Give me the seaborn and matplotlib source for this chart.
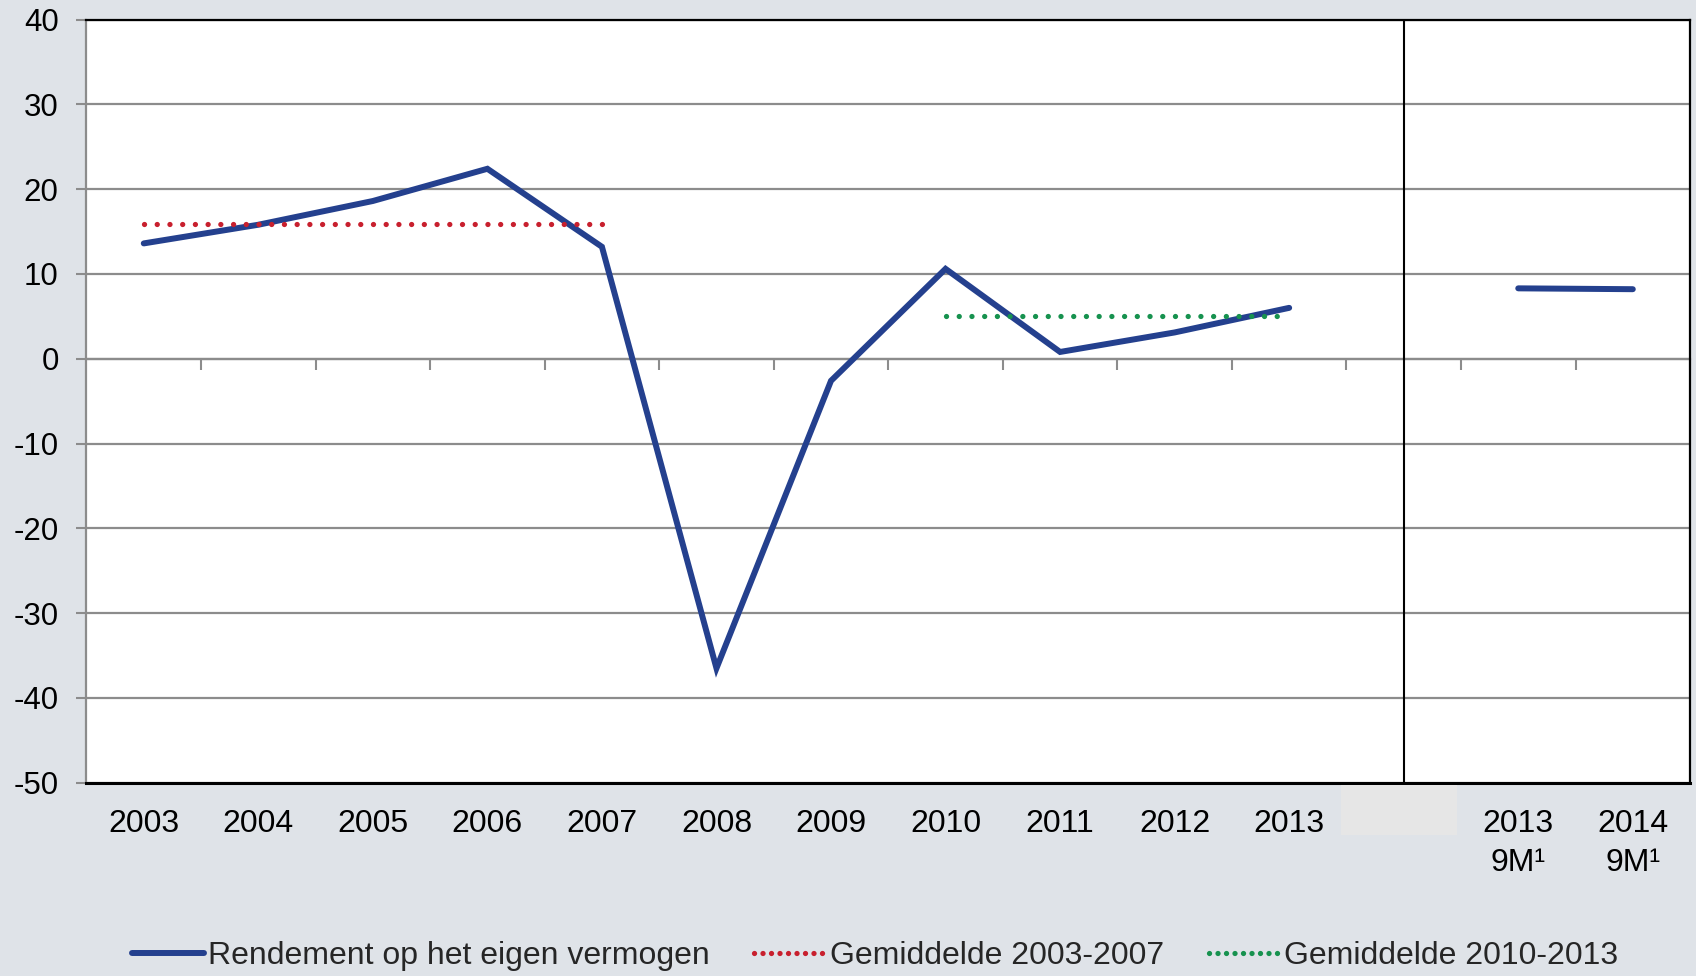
import numpy as np
import pandas as pd
import matplotlib
matplotlib.use("Agg")
import matplotlib.pyplot as plt
import seaborn as sns
from matplotlib.lines import Line2D
from matplotlib.patches import Rectangle

# data
categories = ["2003", "2004", "2005", "2006", "2007", "2008", "2009", "2010",
              "2011", "2012", "2013", "", "2013\n9M¹", "2014\n9M¹"]
rendement = [13.6, 15.8, 18.6, 22.4, 13.2, -36.5, -2.6, 10.6,
             0.8, 3.1, 6.0, np.nan, 8.3, 8.2]
gem_0307 = 15.9
gem_1013 = 5.0
gem_0307_span = ["2003", "2007"]
gem_1013_span = ["2010", "2013"]
yticks = list(range(-50, 41, 10))

blue = "#24408e"
red = "#c8202e"
green = "#17924f"
bg = "#dfe3e8"

sns.set_theme(style="white")
plt.rcParams["font.family"] = ["Liberation Sans", "DejaVu Sans"]
plt.rcParams["axes.unicode_minus"] = False

df = pd.DataFrame({"pos": np.arange(len(categories)), "cat": categories, "val": rendement})
df["segment"] = np.where(df["pos"] < 11, "hist", "9m")
df = df.dropna()

fig = plt.figure(figsize=(16.96, 9.76), dpi=100, facecolor=bg)
ax = fig.add_axes([0.051, 0.198, 0.9455, 0.782])
ax.set_facecolor("white")

dots = (0, (0.01, 2.4))

# main series (two separate pieces, gap at blank category)
for seg, d in df.groupby("segment"):
    sns.lineplot(data=d, x="pos", y="val", ax=ax, color=blue, lw=4.3,
                 solid_capstyle="round", solid_joinstyle="miter", legend=False)

# averages
pos_of = {c: i for i, c in enumerate(categories)}
avg = pd.DataFrame({
    "pos": [pos_of[gem_0307_span[0]], pos_of[gem_0307_span[1]]],
    "val": [gem_0307, gem_0307]})
sns.lineplot(data=avg, x="pos", y="val", ax=ax, color=red, lw=3.8,
             linestyle=dots, dash_capstyle="round", legend=False)
avg2 = pd.DataFrame({
    "pos": [pos_of[gem_1013_span[0]], pos_of[gem_1013_span[1]]],
    "val": [gem_1013, gem_1013]})
sns.lineplot(data=avg2, x="pos", y="val", ax=ax, color=green, lw=3.8,
             linestyle=dots, dash_capstyle="round", legend=False)

ax.set_xlim(-0.5, len(categories) - 0.5)
ax.set_ylim(-50, 40)
ax.set_yticks(yticks)
ax.set_yticklabels([str(t) for t in yticks], fontsize=22.5, color="black")
ax.yaxis.grid(True, color="#8c8c8c", lw=1.6)
ax.set_axisbelow(True)
ax.tick_params(axis="y", direction="out", length=7, width=1.5, color="#8c8c8c", pad=13, left=True)

ax.set_xticks(range(len(categories)))
ax.set_xticklabels(categories, fontsize=23, color="black", linespacing=1.38, va="top")
ax.tick_params(axis="x", length=0, pad=19)
ax.set_xlabel("")
ax.set_ylabel("")

for s in ["top", "bottom", "right"]:
    ax.spines[s].set_color("black")
ax.spines["top"].set_linewidth(1.6)
ax.spines["bottom"].set_linewidth(2.2)
ax.spines["right"].set_linewidth(1.6)
ax.spines["left"].set_color("#8c8c8c")
ax.spines["left"].set_linewidth(1.6)

# separator between yearly and 9M figures
ax.axvline(pos_of[""], color="black", lw=1.5, zorder=3)

# category boundary ticks on the zero line
sec = ax.secondary_xaxis(0, transform=ax.transData)
sec.set_xticks(np.arange(0.5, len(categories), 1.0))
sec.set_xticklabels([])
sec.tick_params(axis="x", direction="out", length=8, width=1.5, color="#8c8c8c")
sec.spines["bottom"].set_color("#8c8c8c")
sec.spines["bottom"].set_linewidth(1.6)

# light box behind blank label
fig.patches.append(Rectangle((1341 / 1696, 1 - 835 / 976), 116 / 1696, 50 / 976,
                             transform=fig.transFigure, facecolor="#e6e6e6",
                             edgecolor="none", zorder=0))

handles = [
    Line2D([], [], color=blue, lw=4.3, solid_capstyle="round"),
    Line2D([], [], color=red, lw=3.8, linestyle=(0, (0.01, 1.6)), dash_capstyle="round"),
    Line2D([], [], color=green, lw=3.8, linestyle=(0, (0.01, 1.6)), dash_capstyle="round"),
]
labels = ["Rendement op het eigen vermogen", "Gemiddelde 2003-2007", "Gemiddelde 2010-2013"]
fig.legend(handles, labels, loc="center", bbox_to_anchor=(0.516, 0.020), ncol=3,
           frameon=False, fontsize=23, handlelength=2.25, handletextpad=0.12,
           columnspacing=1.4, borderaxespad=0)

fig.savefig("out.png", dpi=100, facecolor=bg)
